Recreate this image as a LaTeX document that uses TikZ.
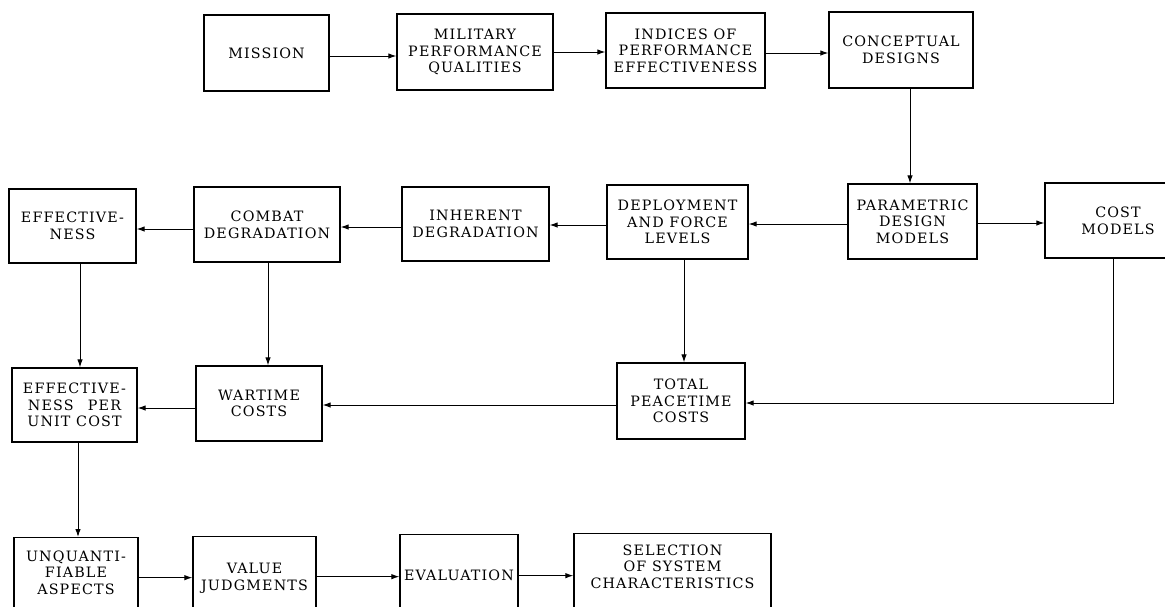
\documentclass[tikz,border=0pt]{standalone}
\usepackage{fontspec}
\usetikzlibrary{arrows.meta}
\newfontfamily\bxfamily{DejaVu Serif}[LetterSpace=8]
\newcommand\bxfont{\bxfamily\fontsize{14.3}{16.6}\selectfont}
\begin{document}
\begin{tikzpicture}[x=1pt,y=-1pt,
  box/.style={draw, line width=1.3pt, align=center, inner sep=0pt, font=\bxfont},
  arr/.style={line width=1pt, -{Latex[length=8pt,width=5.5pt]}},
  bot/.style={box, anchor=north, minimum height=100pt}]
\useasboundingbox (0,0) rectangle (1165,606);
\clip (0,0) rectangle (1165,606);
% top row
\node[box, minimum width=125pt, minimum height=76pt] (mission) at (266.5,53) {MISSION};
\node[box, minimum width=156pt, minimum height=76pt] (military) at (475,52) {MILITARY\\PERFORMANCE\\QUALITIES};
\node[box, minimum width=159pt, minimum height=75pt] (indices) at (685.5,50.5) {INDICES OF\\PERFORMANCE\\EFFECTIVENESS};
\node[box, minimum width=144pt, minimum height=76pt] (concept) at (901,50) {CONCEPTUAL\\DESIGNS};
% second row
\node[box, minimum width=129pt, minimum height=75pt] (param) at (912.5,221.5) {PARAMETRIC\\DESIGN\\MODELS};
\node[box, minimum width=146pt, minimum height=75pt] (cost) at (1118,220.5) {COST\\MODELS};
\node[box, minimum width=141pt, minimum height=74pt] (deploy) at (677.5,222) {DEPLOYMENT\\AND FORCE\\LEVELS};
\node[box, minimum width=147pt, minimum height=74pt] (inherent) at (475.5,224) {INHERENT\\DEGRADATION};
\node[box, minimum width=146pt, minimum height=75pt] (combat) at (267,224.5) {COMBAT\\DEGRADATION};
\node[box, minimum width=127pt, minimum height=74pt] (eff) at (72.5,226) {EFFECTIVE-\\NESS};
% third row
\node[box, minimum width=125pt, minimum height=74pt] (epuc) at (74.5,405) {EFFECTIVE-\\NESS\quad PER\\UNIT COST};
\node[box, minimum width=126pt, minimum height=75pt] (wartime) at (259,403.5) {WARTIME\\COSTS};
\node[box, minimum width=128pt, minimum height=76pt] (total) at (681,401) {TOTAL\\PEACETIME\\COSTS};
% bottom row
\node[bot, minimum width=124pt, text depth=30pt] (unq) at (76,537) {UNQUANTI-\\FIABLE\\ASPECTS};
\node[bot, minimum width=123pt, text depth=20pt] (value) at (254.5,536) {VALUE\\JUDGMENTS};
\node[bot, minimum width=118pt, text depth=18pt] (eval) at (459,534) {EVALUATION};
\node[bot, minimum width=197pt, text depth=34pt] (sel) at (672.5,533) {SELECTION\\OF SYSTEM\\CHARACTERISTICS};
% connectors
\draw[arr] ([yshift=-3pt]mission.east) -- ([yshift=-3pt]mission.east -| military.west);
\draw[arr] (military.east) -- (military.east -| indices.west);
\draw[arr] ([yshift=-2.5pt]indices.east) -- ([yshift=-2.5pt]indices.east -| concept.west);
\draw[arr] ([xshift=-2.5pt]param.north |- concept.south) -- ([xshift=-2.5pt]param.north);
\draw[arr] ([yshift=-2.5pt]param.west) -- ([yshift=-2.5pt]param.west -| deploy.east);
\draw[arr] ([yshift=-1.5pt]param.east) -- ([yshift=-1.5pt]param.east -| cost.west);
\draw[arr] ([yshift=-3pt]deploy.west) -- ([yshift=-3pt]deploy.west -| inherent.east);
\draw[arr] ([yshift=-3pt]inherent.west) -- ([yshift=-3pt]inherent.west -| combat.east);
\draw[arr] ([yshift=-4.5pt]combat.west) -- ([yshift=-4.5pt]combat.west -| eff.east);
\draw[arr] ([xshift=7.5pt]eff.south) -- ([xshift=7.5pt]eff.south |- epuc.north);
\draw[arr] ([xshift=1pt]combat.south) -- ([xshift=1pt]combat.south |- wartime.north);
\draw[arr] ([xshift=6.5pt]deploy.south) -- ([xshift=6.5pt]deploy.south |- total.north);
\draw[arr] ([xshift=-5pt]cost.south) |- ([yshift=-2pt]total.east);
\draw[arr] ([yshift=-4pt]total.west) -- ([yshift=-4pt]total.west -| wartime.east);
\draw[arr] ([yshift=-4.5pt]wartime.west) -- ([yshift=-4.5pt]wartime.west -| epuc.east);
\draw[arr] ([xshift=3.5pt]epuc.south) -- ([xshift=3.5pt]epuc.south |- unq.north);
\draw[arr] ([yshift=10pt]unq.east) -- ([yshift=10pt]unq.east -| value.west);
\draw[arr] ([yshift=10pt]value.east) -- ([yshift=10pt]value.east -| eval.west);
\draw[arr] ([yshift=9pt]eval.east) -- ([yshift=9pt]eval.east -| sel.west);
\end{tikzpicture}
\end{document}
